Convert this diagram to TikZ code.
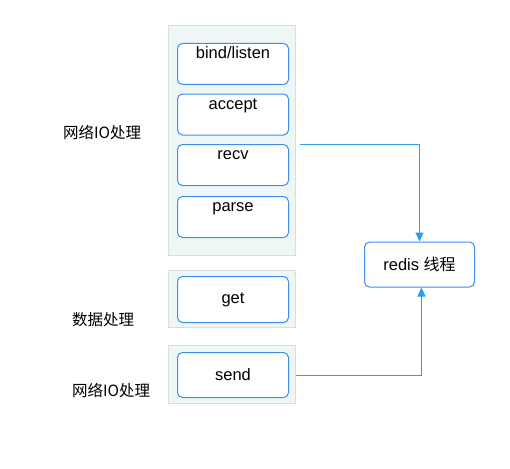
\documentclass[tikz,border=0pt]{standalone}
\usepackage{fontspec}
\setmainfont{Liberation Sans}
\newfontfamily\cjk{Noto Sans CJK SC}
\usetikzlibrary{arrows.meta,positioning,calc}
\definecolor{boxblue}{HTML}{3D8EF0}
\definecolor{arrblue}{HTML}{2D9BF0}
\definecolor{panelfill}{HTML}{EEF6F6}
\definecolor{paneledge}{HTML}{D8DEDE}
\begin{document}
\begin{tikzpicture}[x=1pt,y=-1pt,
  panel/.style={draw=paneledge,fill=panelfill,line width=0.7pt,inner sep=0pt,anchor=north west},
  topbox/.style={draw=boxblue,fill=white,rounded corners=5pt,line width=1pt,inner sep=0pt,
     anchor=north west,text width=111pt,align=center,text height=15pt,text depth=26pt,font=\fontsize{16.5}{19}\selectfont},
  midbox/.style={draw=boxblue,fill=white,rounded corners=5pt,line width=1pt,inner sep=0pt,
     anchor=north west,minimum width=111pt,font=\fontsize{16.5}{19}\selectfont},
  lbl/.style={font=\cjk\fontsize{15.5}{18}\selectfont,inner sep=0pt},
  conn/.style={draw=arrblue,line width=1pt,-{Triangle[length=9pt,width=8pt]}}
]
\useasboundingbox (0,0) rectangle (510,468);
% panels
\node[panel,minimum width=127pt,minimum height=230pt] (p1) at (168,25) {};
\node[panel,minimum width=127pt,minimum height=57pt] (p2) at (168,270) {};
\node[panel,minimum width=127pt,minimum height=58pt] (p3) at (168,345) {};
% top boxes
\node[topbox] (bind) at (177,43) {bind/listen};
\node[topbox] (accept) at (177,93.5) {accept};
\node[topbox] (recv) at (177,144) {recv};
\node[topbox] (parse) at (177,196) {parse};
% bottom boxes
\node[midbox,minimum height=46pt] (get) at (177,276) {get};
\node[midbox,minimum height=45pt] (send) at (177,352) {send};
% redis
\node[draw=boxblue,fill=white,rounded corners=5pt,line width=1pt,minimum width=110pt,minimum height=45pt,
  inner sep=0pt,font=\fontsize{16.5}{19}\selectfont] (redis) at (419.5,264.5) {redis {\cjk\fontsize{16}{19}\selectfont 线程}};
% labels
\node[lbl,anchor=west] (l1) at (63,133) {网络IO处理};
\node[lbl,anchor=west] (l2) at (72,320) {数据处理};
\node[lbl,anchor=west] (l3) at (72,391) {网络IO处理};
% connectors
\coordinate (c1) at ($(recv.north east)+(11,0)$);
\draw[conn] (c1) -| (redis.north);
\draw[conn] (send.east -| p3.east) -| ($(redis.south)+(2,0)$);
\end{tikzpicture}
\end{document}
